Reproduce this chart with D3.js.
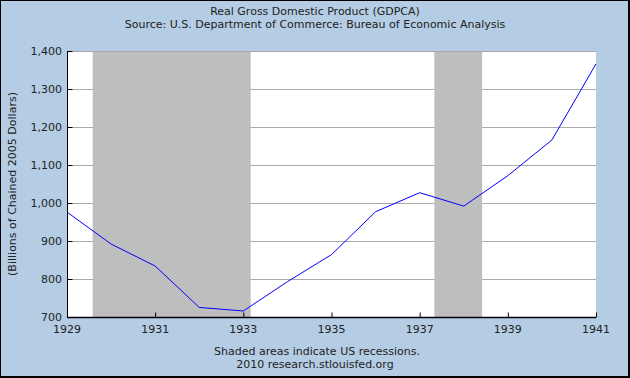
<!DOCTYPE html>
<html><head><meta charset="utf-8">
<script src="https://cdn.jsdelivr.net/npm/d3@7"></script>
<style>html,body{margin:0;padding:0;background:#fff}svg{display:block}</style>
</head><body>
<svg id="c" width="630" height="378"></svg>
<script>
const years = [1929,1930,1931,1932,1933,1934,1935,1936,1937,1938,1939,1940,1941];
const gdp = [976.1,892.0,834.2,725.2,715.8,792.9,864.2,977.0,1027.1,991.8,1071.9,1165.9,1366.1];
const recessionStarts = [1929 + 7/12, 1937 + 4/12];
const recessionEnds = [1933 + 2/12, 1938 + 5/12];
const xTicks = [1929,1931,1933,1935,1937,1939,1941];
const yTicks = [700,800,900,1000,1100,1200,1300,1400];
const title = "Real Gross Domestic Product (GDPCA)";
const subtitle = "Source: U.S. Department of Commerce: Bureau of Economic Analysis";
const yLabel = "(Billions of Chained 2005 Dollars)";
const note1 = "Shaded areas indicate US recessions.";
const note2 = "2010 research.stlouisfed.org";

const svg = d3.select("#c");
const W = 630, H = 378;
const font = "DejaVu Sans, Verdana, sans-serif";
svg.append("rect").attr("x",0).attr("y",0).attr("width",W).attr("height",H).attr("fill","#000");
svg.append("rect").attr("x",1).attr("y",1).attr("width",W-3).attr("height",H-3).attr("fill","#b4cde4");

const L = 67, R = 596, T = 51, B = 317;
const x = d3.scaleLinear().domain([1929,1941]).range([L,R]);
const y = d3.scaleLinear().domain([700,1400]).range([B,T]);

svg.append("rect").attr("x",L).attr("y",T).attr("width",R-L).attr("height",B-T).attr("fill","#fff");

// gridlines
svg.append("g").selectAll("line").data(yTicks.filter(v=>v>700)).enter().append("line")
  .attr("x1",L).attr("x2",R).attr("y1",d=>y(d)+0.5).attr("y2",d=>y(d)+0.5)
  .attr("stroke","#aaaaaa").attr("stroke-width",1);
// recession shading (covers grid)
svg.selectAll("rect.rec").data(recessionStarts).enter().append("rect").attr("class","rec")
  .attr("x",(d)=>x(d)).attr("y",T+1).attr("width",(d,i)=>x(recessionEnds[i])-x(d)).attr("height",B-T-1).attr("fill","#bebebe");

// line
const line = d3.line().x((d,i)=>x(years[i])).y(d=>y(d));
svg.append("path").datum(gdp).attr("d",line).attr("fill","none").attr("stroke","#0000ff").attr("stroke-width",1);

// y axis
const yAxis = d3.axisRight(y).tickValues(yTicks).tickSize(5).tickFormat("");
const ya = svg.append("g").attr("transform",`translate(${L+0.5},0)`).call(yAxis);
ya.selectAll("path").attr("stroke","#000").attr("d",`M0,${T}V${B}`);
ya.selectAll("line").attr("stroke","#000");
svg.append("g").selectAll("text").data(yTicks).enter().append("text")
  .attr("x",L-5).attr("y",d=>y(d)+4).attr("text-anchor","end")
  .attr("font-family",font).attr("font-size",11).attr("fill","#222")
  .text(d=>d3.format(",")(d));

// x axis
const xAxis = d3.axisTop(x).tickValues(xTicks).tickSize(5).tickFormat("");
const xa = svg.append("g").attr("transform",`translate(0,${B+0.5})`).call(xAxis);
xa.selectAll("path").attr("stroke","#000").attr("stroke-width",1.5).attr("d",`M${L},0H${R}`);
xa.selectAll("line").attr("stroke","#000");
svg.append("g").selectAll("text").data(xTicks).enter().append("text")
  .attr("x",d=>x(d)).attr("y",B+16).attr("text-anchor","middle")
  .attr("font-family",font).attr("font-size",11).attr("fill","#222").text(d=>d);

// texts
const t = (s,xx,yy)=>svg.append("text").attr("x",xx).attr("y",yy).attr("text-anchor","middle")
  .attr("font-family",font).attr("font-size",11).attr("fill","#222").text(s);
t(title,315,15);
t(subtitle,315,28);
t(note1,317,355);
t(note2,315,368);
svg.append("text").attr("transform",`translate(16,${(T+B)/2}) rotate(-90)`).attr("text-anchor","middle")
  .attr("font-family",font).attr("font-size",11).attr("fill","#222").text(yLabel);
</script>
</body></html>
